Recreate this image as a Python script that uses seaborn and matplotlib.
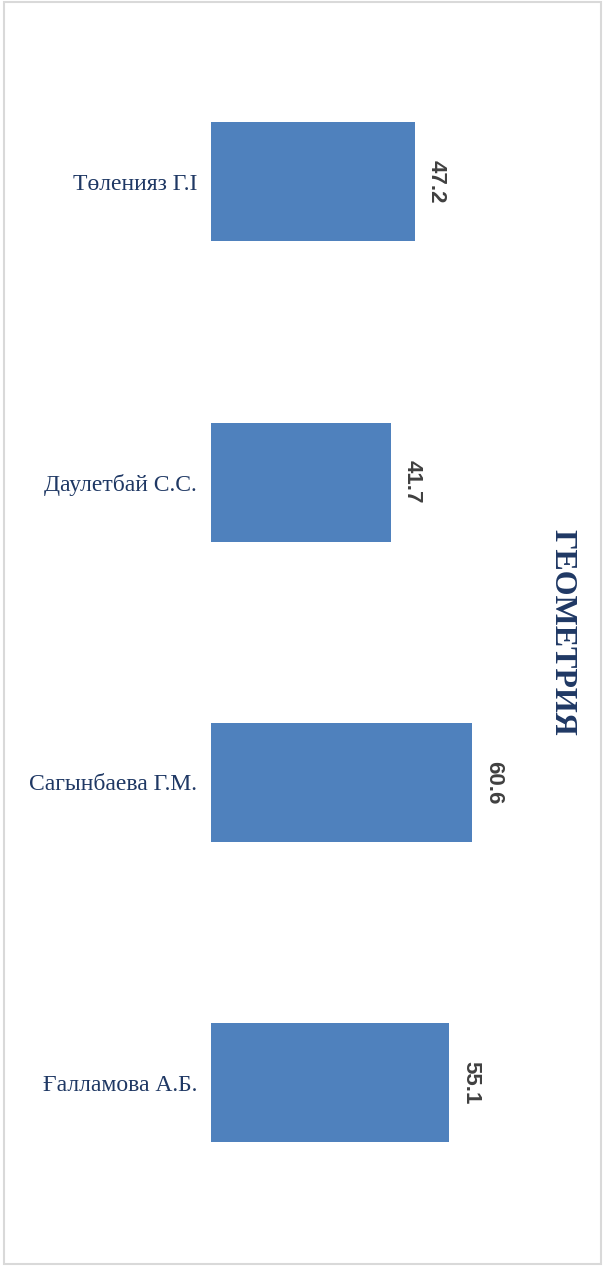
import matplotlib
matplotlib.use("Agg")
import matplotlib.pyplot as plt
import seaborn as sns
import pandas as pd
from matplotlib.patches import Rectangle

# chart data
teachers = ["Төленияз Г.І", "Даулетбай С.С.", "Сагынбаева Г.М.", "Ғалламова А.Б."]
scores = [47.2, 41.7, 60.6, 55.1]
title = "ГЕОМЕТРИЯ"

df = pd.DataFrame({"teacher": teachers, "score": scores})

sns.set_theme(style="white")
plt.rcParams["font.family"] = ["Liberation Serif", "DejaVu Serif"]

fig = plt.figure(figsize=(6.03, 12.71), dpi=100)
ax = fig.add_axes([211 / 603, (1271 - 1233) / 1271, 302 / 603, (1233 - 31.5) / 1271])

sns.barplot(data=df, x="score", y="teacher", orient="h", color="#4F81BD",
            saturation=1, width=0.396, edgecolor="none", ax=ax)

ax.set_xlim(0, 70)
ax.set_ylim(3.5, -0.5)
ax.set_xlabel("")
ax.set_ylabel("")
ax.set_xticks([])
ax.tick_params(axis="y", length=0, pad=10, labelsize=17, labelcolor="#1F3864")
sns.despine(ax=ax, left=True, bottom=True)

for i, v in enumerate(scores):
    ax.annotate(f"{v}", xy=(v, i), xytext=(8, 0), textcoords="offset points",
                rotation=270, ha="left", va="center", fontsize=16,
                fontweight="bold", color="#404040",
                family=["Liberation Sans", "DejaVu Sans"])

fig.text(562 / 603, 1 - 632 / 1271, title, rotation=270, ha="center", va="center",
         fontsize=23, fontweight="bold", color="#1F3864")

# light frame around the chart
fig.patches.append(Rectangle((4 / 603, 1 - 1264 / 1271), 597 / 603, 1262 / 1271,
                             transform=fig.transFigure, fill=False,
                             edgecolor="#D9D9D9", linewidth=1.5))

fig.savefig("out.png", dpi=100, facecolor="white")
